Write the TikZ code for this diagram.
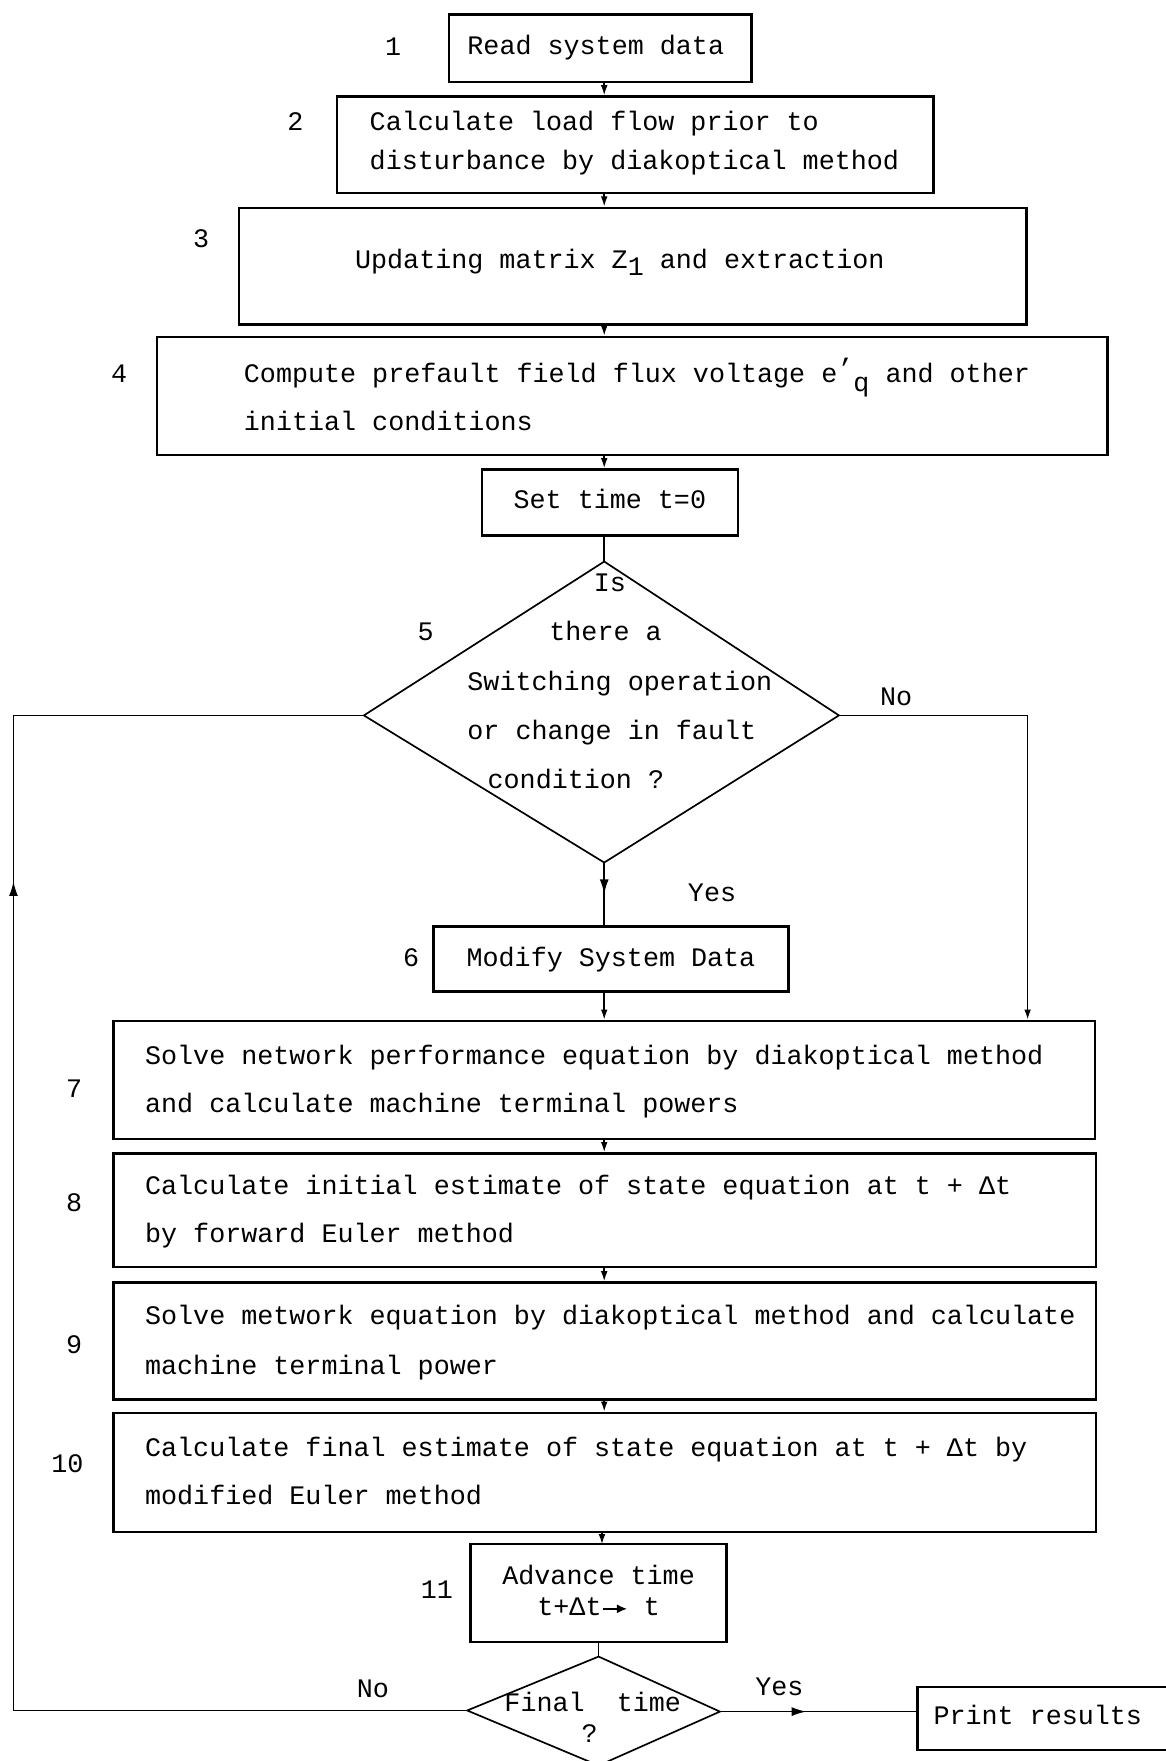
\documentclass[tikz,border=0pt]{standalone}
\usepackage{fontspec}
\setmainfont{Liberation Mono}
\usetikzlibrary{arrows.meta,decorations.markings}
\begin{document}
\begin{tikzpicture}[x=1pt,y=-1pt,
  box/.style={draw, line width=2.2pt, inner sep=0pt},
  txt/.style={anchor=west, inner sep=0pt, font=\fontsize{23.8}{28}\selectfont, text height=16pt, text depth=5pt},
  ctxt/.style={txt, anchor=center},
  conn/.style={line width=1.4pt},
  arr/.style={conn, -{Latex[length=9pt,width=6pt]}},
  midarr/.style={conn, postaction={decorate}, decoration={markings, mark=at position #1 with {\arrow{Latex[length=13pt,width=8pt]}}}},
  dia/.style={line width=1.5pt}
]
\path[use as bounding box] (0,0) rectangle (1038,1568);
\clip (0,0) rectangle (1038,1568);
\coordinate (cx) at (538,0);

% boxes
\node[box, minimum width=269, minimum height=60] (b1) at (534.5,43) {};
\node[box, minimum width=531, minimum height=86] (b2) at (565.5,129) {};
\node[box, minimum width=701, minimum height=104] (b3) at (563.5,237) {};
\node[box, minimum width=846, minimum height=105] (b4) at (563,352.5) {};
\node[box, minimum width=228, minimum height=59] (b5) at (543,447.5) {};
\node[box, minimum width=316, minimum height=58] (b6) at (544,854) {};
\node[box, minimum width=874, minimum height=105] (b7) at (538,961.5) {};
\node[box, minimum width=875, minimum height=101] (b8) at (538.5,1077.5) {};
\node[box, minimum width=875, minimum height=104] (b9) at (538.5,1194) {};
\node[box, minimum width=875, minimum height=106] (b10) at (538.5,1311) {};
\node[box, minimum width=228, minimum height=87] (b11) at (533,1418.5) {};
\node[box, minimum width=243, minimum height=56] (bp) at (938.5,1530) {};

% diamonds
\coordinate (d5t) at (538,500);
\coordinate (d5r) at (747,637);
\coordinate (d5b) at (538,768);
\coordinate (d5l) at (324,637);
\draw[dia] (d5t) -- (d5r) -- (d5b) -- (d5l) -- cycle;
\coordinate (d11t) at (533,1475);
\coordinate (d11r) at (641,1524);
\coordinate (d11b) at (533,1572);
\coordinate (d11l) at (416,1523);
\draw[dia] (d11t) -- (d11r) -- (d11b) -- (d11l) -- cycle;

% texts
\node[txt] (t1) at (416,43) {Read system data};
\node[txt] (t2a) at (329,111) {Calculate load flow prior to};
\node[txt] (t2b) at (329,145) {disturbance by diakoptical method};
\node[txt] (t3) at (316,234) {Updating matrix Z\raisebox{-6pt}{1} and extraction};
\node[txt] (t4a) at (217,335) {Compute prefault field flux voltage e\makebox[14.28pt]{\raisebox{4pt}{'}}\makebox[14.28pt]{\raisebox{-8pt}{q}} and other};
\node[txt] (t4b) at (217,378) {initial conditions};
\node[ctxt] (t5) at (543,447) {Set time t=0};
\node[ctxt] (d5a) at (543,521) {Is};
\node[txt] (d5bb) at (489,565) {there a};
\node[txt] (d5c) at (416,609) {Switching operation};
\node[txt] (d5d) at (416,653) {or change in fault};
\node[txt] (d5e) at (434,697) {condition ?};
\node[ctxt] (t6) at (544,855) {Modify System Data};
\node[txt] (t7a) at (129,942) {Solve network performance equation by diakoptical method};
\node[txt] (t7b) at (129,985) {and calculate machine terminal powers};
\node[txt] (t8a) at (129,1058) {Calculate initial estimate of state equation at t + Δt};
\node[txt] (t8b) at (129,1101) {by forward Euler method};
\node[txt] (t9a) at (129,1174) {Solve metwork equation by diakoptical method and calculate};
\node[txt] (t9b) at (129,1218) {machine terminal power};
\node[txt] (t10a) at (129,1291) {Calculate final estimate of state equation at t + Δt by};
\node[txt] (t10b) at (129,1334) {modified Euler method};
\node[ctxt] (t11a) at (533,1405) {Advance time};
\node[ctxt] (t11b) at (533,1433) {t+Δt\kern1pt\tikz[baseline=-6pt,x=1pt,y=1pt]\draw[line width=1.3pt,-{Latex[length=9pt,width=8pt]}] (0,0) -- (21,0);\ t};
\node[txt] (d11a) at (449,1518) {Final\ \ time};
\node[ctxt] (d11q) at (525,1546) {?};
\node[txt] (tp) at (831,1530) {Print results};

% step numbers
\node[ctxt] (n1) at (350,44) {1};
\node[ctxt] (n2) at (263,111) {2};
\node[ctxt] (n3) at (179,215) {3};
\node[ctxt] (n4) at (106,335) {4};
\node[ctxt] (n5) at (379,565) {5};
\node[ctxt] (n6) at (366,855) {6};
\node[ctxt] (n7) at (66,972) {7};
\node[ctxt] (n8) at (66,1073) {8};
\node[ctxt] (n9) at (66,1200) {9};
\node[ctxt] (n10) at (60,1306) {10};
\node[ctxt] (n11) at (389,1418) {11};

% branch labels
\node[ctxt] (no1) at (798,623) {No};
\node[ctxt] (yes1) at (634,797) {Yes};
\node[ctxt] (no2) at (332,1506) {No};
\node[ctxt] (yes2) at (694,1504) {Yes};

% connectors
\draw[arr] (b1.south -| cx) -- (b2.north -| cx);
\draw[arr] (b2.south -| cx) -- (b3.north -| cx);
\draw[arr] (b3.south -| cx) -- (b4.north -| cx);
\draw[arr] (b4.south -| cx) -- (b5.north -| cx);
\draw[conn] (b5.south -| cx) -- (d5t);
\draw[midarr=0.5] (d5b) -- (b6.north -| d5b);
\draw[arr] (d5r) -- (915,637) -- (915,0 |- b7.north);
\draw[arr] (b6.south -| cx) -- (b7.north -| cx);
\draw[arr] (b7.south -| cx) -- (b8.north -| cx);
\draw[arr] (b8.south -| cx) -- (b9.north -| cx);
\draw[arr] (b9.south -| cx) -- (b10.north -| cx);
\draw[arr] (536,1364) -- (536,1375);
\draw[conn] (b11.south -| d11t) -- (d11t);
\draw[midarr=0.44] (d11r) -- (bp.west |- d11r);
\draw[midarr=0.713] (d11l) -- (12,1523) -- (12,637) -- (d5l);
\end{tikzpicture}
\end{document}
